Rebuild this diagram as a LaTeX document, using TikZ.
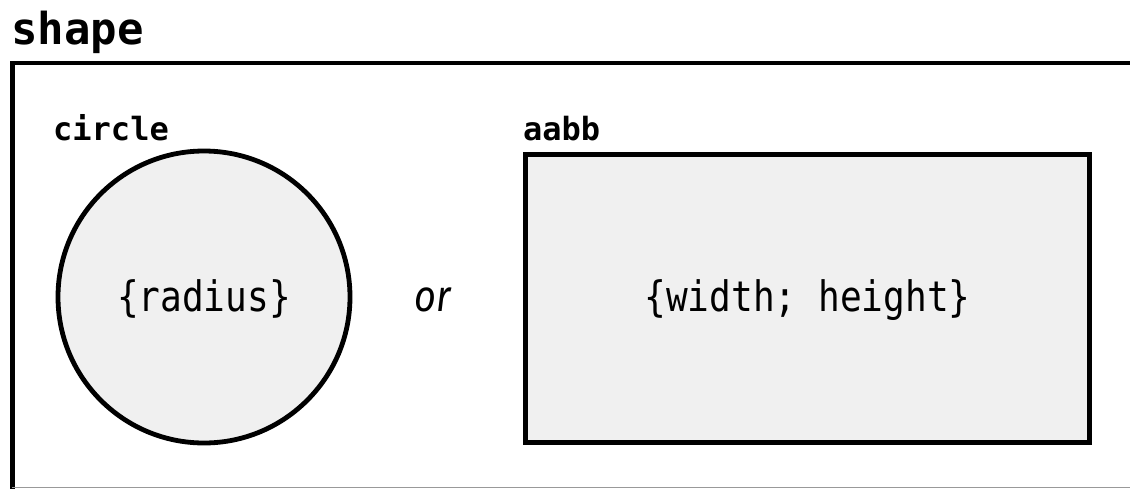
\documentclass[tikz,border=0pt]{standalone}
\usepackage{fontspec}
\newfontfamily\codefont{DejaVu Sans Mono}
\newfontfamily\wordfont{Fira Sans}
\definecolor{shapefill}{HTML}{F0F0F0}
\definecolor{edgegray}{HTML}{999999}
\tikzset{
  title/.style={anchor=base west, inner sep=0pt, font=\codefont\bfseries\fontsize{44}{44}\selectfont},
  kind/.style={anchor=base west, inner sep=0pt, font=\codefont\bfseries\fontsize{32}{32}\selectfont},
  field/.style={anchor=base, inner sep=0pt, xscale=0.86, font=\codefont\fontsize{42}{42}\selectfont},
  word/.style={anchor=base, inner sep=0pt, xscale=0.86, font=\wordfont\itshape\fontsize{44}{44}\selectfont},
  outline/.style={draw=black, line width=4.8pt, fill=shapefill, inner sep=0pt, outer sep=0pt},
  frame/.style={draw=black, line width=4.8pt}
}
\begin{document}
\begin{tikzpicture}[x=1pt, y=-1pt]
  \useasboundingbox (0,0) rectangle (1130,488);
  % outer frame, open to the right and bottom
  \coordinate (fbl) at (12.5,490);
  \coordinate (ftl) at (12.5,63);
  \coordinate (ftr) at (1132,63);
  \draw[frame, line cap=butt] (fbl) -- (ftl) -- (ftr);
  \coordinate (bl) at (12,487.5);
  \coordinate (br) at (1130,487.5);
  \draw[edgegray, line width=1pt] (bl) -- (br);

  \node[title] (shapelbl) at (11,44) {shape};

  % circle variant
  \node[kind] (circlelbl) at (53,140) {circle};
  \node[outline, circle, minimum size=292pt] (circ) at (204,297) {};
  \node[field] (radius) at (204,311) {\{radius\}};

  \node[word] (or) at (433,311) {or};

  % aabb variant
  \node[kind] (aabblbl) at (523,140) {aabb};
  \node[outline, rectangle, minimum width=564pt, minimum height=288pt] (box) at (807.5,298.5) {};
  \node[field] (wh) at (807.5,311) {\{width; height\}};
\end{tikzpicture}
\end{document}
